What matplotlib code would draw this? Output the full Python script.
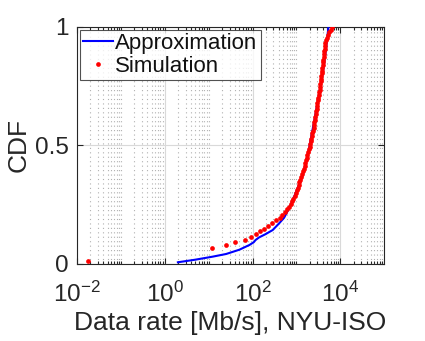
import numpy as np
import matplotlib
matplotlib.use("Agg")
import matplotlib.pyplot as plt
from matplotlib.ticker import FixedLocator, NullFormatter

plt.rcParams['font.family'] = ['Liberation Sans', 'DejaVu Sans']
plt.rcParams['mathtext.fontset'] = 'custom'
plt.rcParams['mathtext.rm'] = 'Liberation Sans'
plt.rcParams['mathtext.it'] = 'Liberation Sans'
plt.rcParams['mathtext.bf'] = 'Liberation Sans'

# Approximation curve (log10 of data rate, CDF)
approx_log_rate = [0.30, 0.70, 1.10, 1.40, 1.70, 1.93, 2.03, 2.07, 2.15, 2.30, 2.46,
                   2.60, 2.72, 2.82, 2.92, 3.05, 3.14, 3.28, 3.41, 3.50, 3.56, 3.62,
                   3.67, 3.70, 3.73]
approx_cdf = [0.007, 0.018, 0.031, 0.042, 0.060, 0.080, 0.092, 0.101, 0.112, 0.126, 0.143,
              0.170, 0.195, 0.230, 0.270, 0.330, 0.370, 0.480, 0.608, 0.700, 0.760, 0.830,
              0.900, 0.950, 1.000]

# Simulation points (log10 of data rate, CDF)
sim_log_rate = [-1.74, 1.08, 1.40, 1.60, 1.84, 1.97, 2.08, 2.18, 2.26, 2.35, 2.44, 2.54,
                2.62, 2.68, 2.73, 2.78, 2.83, 2.87, 2.90, 2.93, 2.96, 2.99, 3.01, 3.03,
                3.05, 3.07, 3.09, 3.11, 3.13, 3.15, 3.17, 3.19, 3.20, 3.22, 3.24, 3.25,
                3.27, 3.28, 3.30, 3.31, 3.33, 3.34, 3.35, 3.36, 3.38, 3.39, 3.40, 3.41,
                3.42, 3.43, 3.44, 3.45, 3.46, 3.47, 3.48, 3.49, 3.50, 3.51, 3.52, 3.53,
                3.54, 3.545, 3.55, 3.56, 3.57, 3.575, 3.58, 3.59, 3.60, 3.605, 3.61,
                3.62, 3.625, 3.63, 3.64, 3.65, 3.66, 3.68, 3.70, 3.72, 3.75, 3.78, 3.81]
sim_cdf = [0.0115, 0.069, 0.080, 0.092, 0.103, 0.115, 0.126, 0.138, 0.149, 0.161, 0.172,
           0.184, 0.195, 0.207, 0.218, 0.230, 0.241, 0.253, 0.264, 0.276, 0.287, 0.299,
           0.310, 0.322, 0.333, 0.345, 0.356, 0.368, 0.379, 0.391, 0.402, 0.414, 0.425,
           0.437, 0.448, 0.460, 0.471, 0.483, 0.494, 0.506, 0.517, 0.529, 0.540, 0.552,
           0.563, 0.575, 0.586, 0.598, 0.609, 0.621, 0.632, 0.644, 0.655, 0.667, 0.678,
           0.690, 0.701, 0.713, 0.724, 0.736, 0.747, 0.759, 0.770, 0.782, 0.793, 0.805,
           0.816, 0.828, 0.839, 0.851, 0.862, 0.874, 0.885, 0.897, 0.908, 0.920, 0.931,
           0.943, 0.954, 0.966, 0.977, 0.989, 1.000]

approx_rate = 10 ** np.array(approx_log_rate)
sim_rate = 10 ** np.array(sim_log_rate)

fig = plt.figure(figsize=(4.25, 3.41), dpi=100)
ax = fig.add_axes([0.181, 0.226, 0.723, 0.695])

ax.plot(approx_rate, approx_cdf, color='#0000ff', lw=1.5, label='Approximation', zorder=3)
ax.plot(sim_rate, sim_cdf, linestyle='none', marker='o', ms=3.4, mec='none',
        color='#ff0000', label='Simulation', zorder=4)

ax.set_xscale('log')
ax.set_xlim(1e-2, 1e5)
ax.set_ylim(0, 1)

minor = []
for d in range(-2, 5):
    for m in range(1, 10):
        v = m * 10.0 ** d
        if m == 1 and d % 2 == 0:
            continue
        if v < 1e5:
            minor.append(v)
ax.xaxis.set_minor_locator(FixedLocator(minor))
ax.xaxis.set_minor_formatter(NullFormatter())
ax.set_xticks([1e-2, 1e0, 1e2, 1e4])
ax.set_xticklabels([r'$10^{-2}$', r'$10^{0}$', r'$10^{2}$', r'$10^{4}$'])
ax.set_yticks([0, 0.5, 1])
ax.set_yticklabels(['0', '0.5', '1'])

ax.grid(True, which='major', color='#d9d9d9', lw=0.8, ls='-')
ax.grid(True, which='minor', axis='x', color='#b0b0b0', lw=0.8, ls=(0, (1, 3)))
ax.set_axisbelow(True)

ax.tick_params(which='both', direction='in', top=True, right=True, labelsize=17.5,
               colors='#262626', width=0.8)
ax.tick_params(which='major', length=4)
ax.tick_params(which='minor', length=2)
ax.tick_params(axis='x', pad=13)
ax.tick_params(axis='y', pad=6)
for s in ax.spines.values():
    s.set_color('#262626')
    s.set_linewidth(0.8)

ax.set_xlabel('Data rate [Mb/s], NYU-ISO', fontsize=19, color='#262626', labelpad=3)
ax.set_ylabel('CDF', fontsize=19, color='#262626', labelpad=3)

leg = ax.legend(loc='upper left', fontsize=16, frameon=True, fancybox=False,
                edgecolor='#262626', borderaxespad=0.12, handlelength=1.35,
                handletextpad=0.1, borderpad=0.15, labelspacing=0.1)
leg.get_frame().set_linewidth(0.8)
for t in leg.get_texts():
    t.set_color('#111111')

fig.savefig('out.png', dpi=100)
